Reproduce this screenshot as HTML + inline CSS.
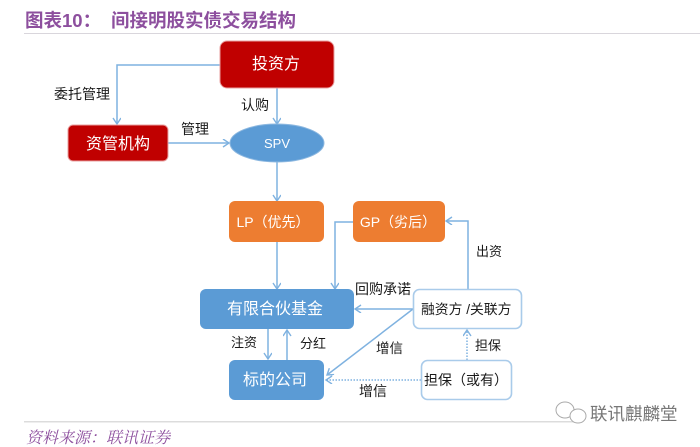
<!DOCTYPE html>
<html><head><meta charset="utf-8"><style>
html,body{margin:0;padding:0;background:#fff;width:700px;height:447px;overflow:hidden}
svg{display:block;filter:blur(.35px)}
text{font-family:"Liberation Sans","Noto Sans CJK SC",sans-serif}
</style></head><body>
<svg width="700" height="447" viewBox="0 0 700 447" xmlns="http://www.w3.org/2000/svg">
<defs><marker id="a" markerWidth="10" markerHeight="10" refX="7" refY="4" orient="auto" markerUnits="userSpaceOnUse"><path d="M1 0L7 4L1 8" fill="none" stroke="#7fb2e0" stroke-width="1.4"/></marker></defs>
<text x="25" y="27" font-size="18.5" font-weight="bold" fill="#8d4f9e">图表10：</text>
<text x="111" y="27" font-size="18.5" font-weight="bold" fill="#8d4f9e">间接明股实债交易结构</text>
<rect x="24" y="33" width="676" height="1" fill="#d9d6dc"/>
<g fill="none" stroke="#7fb2e0" stroke-width="1.5">
<path d="M220 65H117V124" marker-end="url(#a)"/>
<path d="M277 88V124" marker-end="url(#a)"/>
<path d="M168 143H229" marker-end="url(#a)"/>
<path d="M277 162V201" marker-end="url(#a)"/>
<path d="M277 242V289" marker-end="url(#a)"/>
<path d="M353 222H335V289" marker-end="url(#a)"/>
<path d="M468 289V221H446" marker-end="url(#a)"/>
<path d="M413 309H355" marker-end="url(#a)"/>
<path d="M413 309L327 375" marker-end="url(#a)"/>
<path d="M268 329V359" marker-end="url(#a)"/>
<path d="M287 360V330" marker-end="url(#a)"/>
<path d="M421 380H326" stroke-dasharray="1.5 1.5" marker-end="url(#a)"/>
<path d="M467 360V330" stroke-dasharray="1.5 1.5" marker-end="url(#a)"/>
</g>
<rect x="220" y="41" width="114" height="47" rx="7" fill="#c00000" stroke="#e8a0a0"/>
<rect x="68" y="125" width="100" height="36" rx="5" fill="#c00000" stroke="#e8a0a0"/>
<ellipse cx="277" cy="143" rx="47" ry="19" fill="#5b9bd5" stroke="#8db8e0"/>
<rect x="229" y="201" width="95" height="41" rx="6" fill="#ed7d31"/>
<rect x="353" y="201" width="92" height="41" rx="6" fill="#ed7d31"/>
<rect x="200" y="289" width="154" height="40" rx="6" fill="#5b9bd5"/>
<rect x="229" y="360" width="95" height="40" rx="6" fill="#5b9bd5"/>
<rect x="413.5" y="289.5" width="108" height="39" rx="6" fill="#fff" stroke="#a9cbea" stroke-width="1.6"/>
<rect x="421.5" y="360.5" width="90" height="39" rx="6" fill="#fff" stroke="#a9cbea" stroke-width="1.6"/>
<g fill="#fff" text-anchor="middle">
<text x="276" y="69" font-size="16">投资方</text>
<text x="118" y="149" font-size="16">资管机构</text>
<text x="277" y="148" font-size="13">SPV</text>
<text x="273" y="227" font-size="14">LP（优先）</text>
<text x="398" y="227" font-size="14">GP（劣后）</text>
<text x="275" y="314" font-size="16">有限合伙基金</text>
<text x="275" y="385" font-size="16">标的公司</text>
</g>
<g fill="#1a1a1a" font-size="14">
<text x="54" y="99">委托管理</text>
<text x="241" y="110">认购</text>
<text x="181" y="134">管理</text>
<text x="355" y="294">回购承诺</text>
<text x="476" y="256" font-size="13">出资</text>
<text x="376" y="353" font-size="13.5">增信</text>
<text x="475" y="350" font-size="13">担保</text>
<text x="231" y="347" font-size="13">注资</text>
<text x="300" y="348" font-size="13">分红</text>
<text x="359" y="396">增信</text>
<text x="421" y="314" font-size="13.8">融资方 /关联方</text>
<text x="424" y="385">担保（或有）</text>
</g>
<rect x="24" y="421" width="550" height="1.5" fill="#dcdcdc"/>
<text x="26" y="443" font-size="16" font-style="italic" fill="#8d4f9e" style="font-family:'Liberation Serif','Noto Serif CJK SC',serif">资料来源：联讯证券</text>
<g fill="#fff" stroke="#aaa" stroke-width="1">
<ellipse cx="565" cy="410" rx="9" ry="8"/>
<ellipse cx="578" cy="416" rx="8" ry="7"/>
</g>
<text x="590" y="420" font-size="17.5" fill="#777">联讯麒麟堂</text>
</svg>
</body></html>
